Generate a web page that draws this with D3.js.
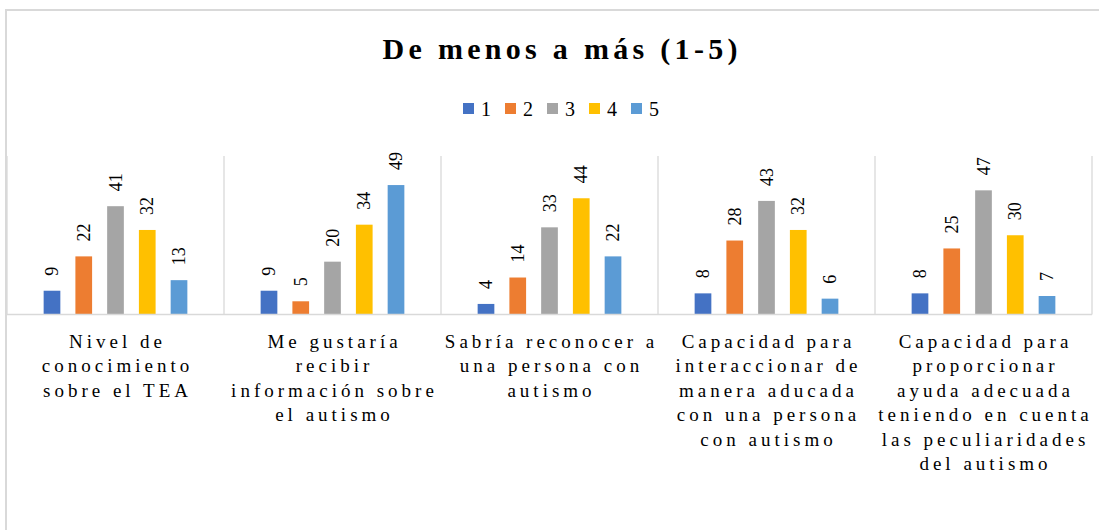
<!DOCTYPE html>
<html>
<head>
<meta charset="utf-8">
<script src="https://cdn.jsdelivr.net/npm/d3@7"></script>
<style>
  html, body { margin: 0; padding: 0; background: #fff; }
</style>
</head>
<body>
<svg id="chart" width="1099" height="530"></svg>
<script>
// Data
const categories = [
    ['Nivel de', 'conocimiento', 'sobre el TEA'],
    ['Me gustaría', 'recibir', 'información sobre', 'el autismo'],
    ['Sabría reconocer a', 'una persona con', 'autismo'],
    ['Capacidad para', 'interaccionar de', 'manera aducada', 'con una persona', 'con autismo'],
    ['Capacidad para', 'proporcionar', 'ayuda adecuada', 'teniendo en cuenta', 'las peculiaridades', 'del autismo']
];
const seriesNames = ['1', '2', '3', '4', '5'];
const seriesColors = ['#4472C4', '#ED7D31', '#A5A5A5', '#FFC000', '#5B9BD5'];
const values1 = [9, 9, 4, 8, 8];
const values2 = [22, 5, 14, 28, 25];
const values3 = [41, 20, 33, 43, 47];
const values4 = [32, 34, 44, 32, 30];
const values5 = [13, 49, 22, 6, 7];
const yMax = 60;

const allSeries = [values1, values2, values3, values4, values5];
const catKeys = categories.map(c => c.join(' '));
const FONT = '"Liberation Serif"';

// widen a text by a gap per glyph using textLength (letter-spacing swaps the font here)
function spreadOut(sel, gap) {
    sel.each(function() {
        const str = this.textContent;
        const w = this.getComputedTextLength();
        d3.select(this)
            .attr('textLength', w + gap * (Array.from(str).length - 1))
            .attr('lengthAdjust', 'spacing');
    });
}

const svg = d3.select('#chart');

// frame
svg.append('rect')
    .attr('x', 6).attr('y', 10)
    .attr('width', 1110).attr('height', 540)
    .attr('fill', '#fff')
    .attr('stroke', '#d9d9d9')
    .attr('stroke-width', 2);

// title
svg.append('text')
    .attr('x', 560).attr('y', 59)
    .attr('text-anchor', 'middle')
    .style('font-family', FONT)
    .attr('font-size', 30)
    .attr('font-weight', 'bold')
    .attr('fill', '#000')
    .text('De menos a más (1-5)')
    .call(spreadOut, 4.3);

// legend
const legend = svg.append('g').attr('transform', 'translate(463,0)');
seriesNames.forEach((name, i) => {
    const item = legend.append('g').attr('transform', `translate(${i * 42},0)`);
    item.append('rect')
        .attr('x', 0).attr('y', 103)
        .attr('width', 11).attr('height', 11)
        .attr('fill', seriesColors[i]);
    item.append('text')
        .attr('x', 18).attr('y', 116)
        .style('font-family', FONT)
        .attr('font-size', 20)
        .attr('fill', '#000')
        .text(name);
});

// scales
const plotLeft = 7, plotRight = 1092, plotTop = 156, plotBottom = 314.5;

const x0 = d3.scaleBand()
    .domain(catKeys)
    .range([plotLeft, plotRight])
    .padding(0);

const x1 = d3.scaleBand()
    .domain(seriesNames)
    .range([0, x0.bandwidth()])
    .paddingInner(0.474)
    .paddingOuter(1.154);

const y = d3.scaleLinear()
    .domain([0, yMax])
    .range([plotBottom, plotTop]);

// vertical separators between categories
const grid = svg.append('g');
const bounds = catKeys.map(k => x0(k)).concat([plotRight]);
bounds.forEach(bx => {
    grid.append('line')
        .attr('x1', bx).attr('x2', bx)
        .attr('y1', plotTop).attr('y2', plotBottom)
        .attr('stroke', '#d9d9d9')
        .attr('stroke-width', 1.3);
});

// bars + labels
const groups = svg.append('g')
    .selectAll('g')
    .data(catKeys)
    .join('g')
    .attr('transform', d => `translate(${x0(d)},0)`);

groups.each(function(cat, ci) {
    const g = d3.select(this);
    const rows = seriesNames.map((s, si) => ({ s, si, v: allSeries[si][ci] }));

    g.selectAll('rect')
        .data(rows)
        .join('rect')
        .attr('x', d => x1(d.s))
        .attr('y', d => y(d.v))
        .attr('width', x1.bandwidth())
        .attr('height', d => plotBottom - y(d.v))
        .attr('fill', d => seriesColors[d.si]);

    g.selectAll('text.val')
        .data(rows)
        .join('text')
        .attr('class', 'val')
        .attr('transform', d => `translate(${x1(d.s) + x1.bandwidth() / 2 + 6},${y(d.v) - 15}) rotate(-90)`)
        .attr('text-anchor', 'start')
        .style('font-family', FONT)
        .attr('font-size', 18)
        .attr('fill', '#000')
        .text(d => d.v);
});

// category axis
svg.append('line')
    .attr('x1', plotLeft).attr('x2', plotRight)
    .attr('y1', plotBottom).attr('y2', plotBottom)
    .attr('stroke', '#d9d9d9')
    .attr('stroke-width', 1.5);

const xAxis = d3.axisBottom(x0).tickSize(0).tickFormat('');
svg.append('g')
    .attr('transform', `translate(0,${plotBottom})`)
    .call(xAxis)
    .call(g => g.select('.domain').remove());

categories.forEach((lines, ci) => {
    const cx = x0(catKeys[ci]) + x0.bandwidth() / 2;
    const t = svg.append('text')
        .attr('text-anchor', 'middle')
        .style('font-family', FONT)
        .attr('font-size', 19)
        .attr('fill', '#000');
    lines.forEach((line, li) => {
        t.append('tspan')
            .attr('x', cx)
            .attr('y', 348 + li * 24.4)
            .text(line)
            .call(spreadOut, 4);
    });
});
</script>
</body>
</html>
